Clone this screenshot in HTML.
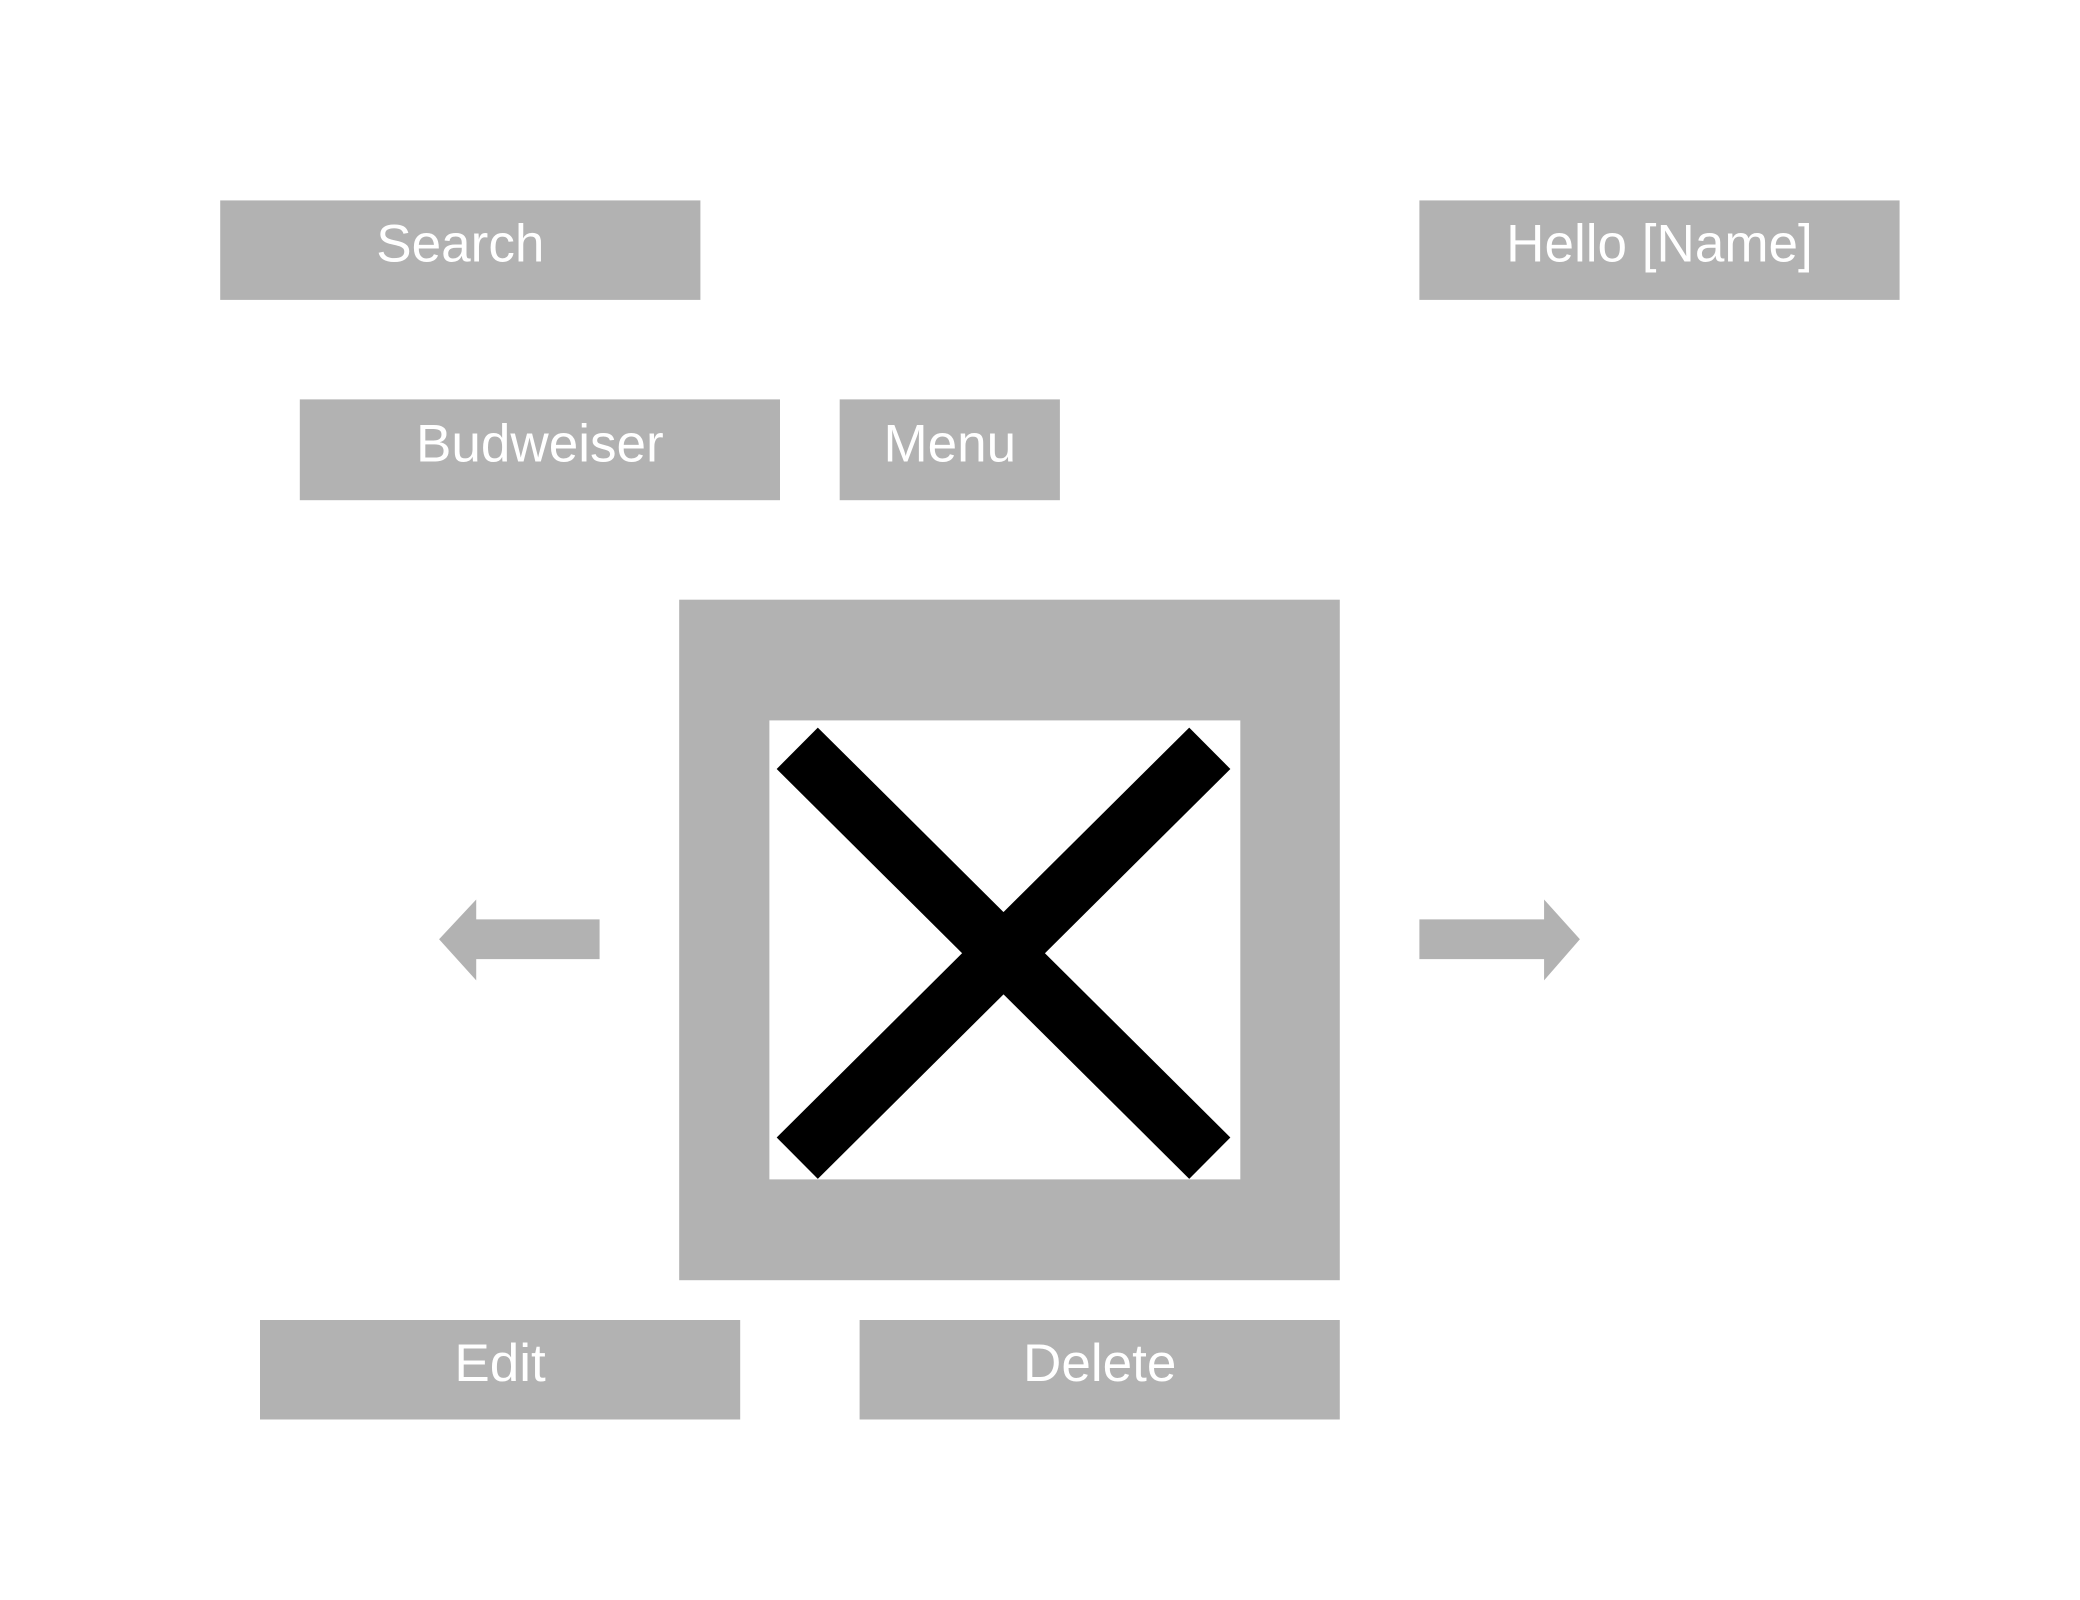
<!DOCTYPE html>
<html><head><style>html,body{margin:0;padding:0;background:#fff;}svg{display:block}</style></head>
<body>
<svg width="2080" height="1600" viewBox="0 0 1568 1206" xmlns="http://www.w3.org/2000/svg">
<rect width="1568" height="1206" fill="#fff"/>
<g fill="#b2b2b2">
<rect x="166" y="151" width="362" height="75"/>
<rect x="1070" y="151" width="362" height="75"/>
<rect x="226" y="301" width="362" height="76"/>
<rect x="633" y="301" width="166" height="76"/>
<rect x="512" y="452" width="498" height="513"/>
<rect x="196" y="995" width="362" height="75"/>
<rect x="648" y="995" width="362" height="75"/>
<polygon points="331,708 359,678 359,693 452,693 452,723 359,723 359,739"/>
<polygon points="1191,708 1164,678 1164,693 1070,693 1070,723 1164,723 1164,739"/>
</g>
<rect x="580" y="543" width="355" height="346" fill="#fff"/>
<clipPath id="c"><rect x="580" y="543" width="355" height="346"/></clipPath>
<g clip-path="url(#c)" stroke="#000" stroke-width="44">
<line x1="601" y1="564" x2="912" y2="873"/>
<line x1="912" y1="564" x2="601" y2="873"/>
</g>
<g fill="#fff" font-family="Liberation Sans, sans-serif" font-size="40" text-anchor="middle">
<text x="347" y="197">Search</text>
<text x="1251" y="197">Hello [Name]</text>
<text x="407" y="348">Budweiser</text>
<text x="716" y="348">Menu</text>
<text x="377" y="1041">Edit</text>
<text x="829" y="1041">Delete</text>
</g>
</svg>
</body></html>
